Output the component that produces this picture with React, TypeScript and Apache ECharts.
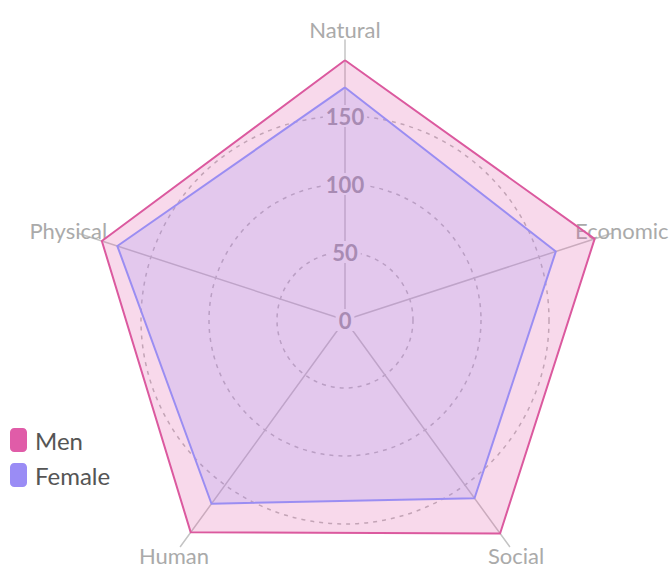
import React, { useEffect, useRef } from "react";
import * as echarts from "echarts";

// Indicators in ECharts order (counter-clockwise from the top)
const indicatorNames = ["Natural", "Physical", "Human", "Social", "Economic"];
const menValues = [191, 188, 193, 194, 193];
const femaleValues = [171, 176, 167, 162, 163];
const seriesNames = ["Men", "Female"];
const tickMax = 200;
const axisMax = 206;

const FONT = "Lato";

export default function App() {
  const ref = useRef<HTMLDivElement>(null);
  useEffect(() => {
    if (!ref.current) return;
    const chart = echarts.init(ref.current, null, { renderer: "svg" });
    const center = [345, 320];
    const option: any = {
      animation: false,
      backgroundColor: "#ffffff",
      legend: {
        data: seriesNames,
        orient: "vertical",
        left: 5,
        top: 423,
        icon: "roundRect",
        itemWidth: 17,
        itemHeight: 24,
        itemGap: 11,
        textStyle: { color: "#555", fontSize: 24, fontFamily: FONT, padding: [0, 0, 0, 3] },
      },
      radar: [
        {
          center,
          radius: 280,
          startAngle: 90,
          shape: "polygon",
          indicator: indicatorNames.map((n) => ({ name: n, min: 0, max: axisMax })),
          nameGap: 11,
          axisName: {
            color: "#aaaaaa",
            fontSize: 22,
            fontFamily: FONT,
            align: "center",
            verticalAlign: "middle",
          },
          axisLine: { show: true, lineStyle: { color: "#c4c4c4", width: 1.5 } },
          splitLine: { show: false },
          splitArea: { show: false },
          axisLabel: { show: false },
          axisTick: { show: false },
        },
        {
          center,
          radius: 272,
          startAngle: 90,
          shape: "circle",
          splitNumber: 4,
          indicator: indicatorNames.map((n, i) => ({
            name: n,
            min: 0,
            max: tickMax,
            ...(i === 0 ? { axisLabel: { show: true } } : {}),
          })),
          axisName: { show: false },
          axisLine: { show: false },
          axisTick: { show: false },
          splitArea: { show: false },
          splitLine: {
            show: true,
            lineStyle: {
              color: ["#bbbbbb", "#bbbbbb", "#bbbbbb", "#bbbbbb", "rgba(0,0,0,0)"],
              width: 1.5,
              type: [4, 5],
            },
          },
          axisLabel: {
            show: false,
            color: "#9c9a9e",
            fontSize: 22,
            fontWeight: "bold",
            fontFamily: FONT,
            margin: 0,
            align: "center",
            verticalAlign: "middle",
            backgroundColor: "#ffffff",
            padding: [0, 3],
            showMinLabel: true,
            showMaxLabel: false,
            formatter: (v: number) => (v >= tickMax ? "" : String(v)),
          },
        },
      ],
      series: [
        {
          name: "Men",
          type: "radar",
          radarIndex: 1,
          symbol: "none",
          itemStyle: { color: "#e05ca8" },
          lineStyle: { color: "#db5a9e", width: 2 },
          areaStyle: { color: "#e05ca8", opacity: 0.23 },
          data: [{ name: "Men", value: menValues }],
        },
        {
          name: "Female",
          type: "radar",
          radarIndex: 1,
          symbol: "none",
          itemStyle: { color: "#9a8cf5" },
          lineStyle: { color: "#9b8ef2", width: 2 },
          areaStyle: { color: "#9a8cf5", opacity: 0.22 },
          data: [{ name: "Female", value: femaleValues }],
        },
      ],
    };
    chart.setOption(option);
    return () => chart.dispose();
  }, []);
  return (
    <div
      ref={ref}
      style={{ position: "fixed", left: 0, top: 0, width: 670, height: 566 }}
    />
  );
}
